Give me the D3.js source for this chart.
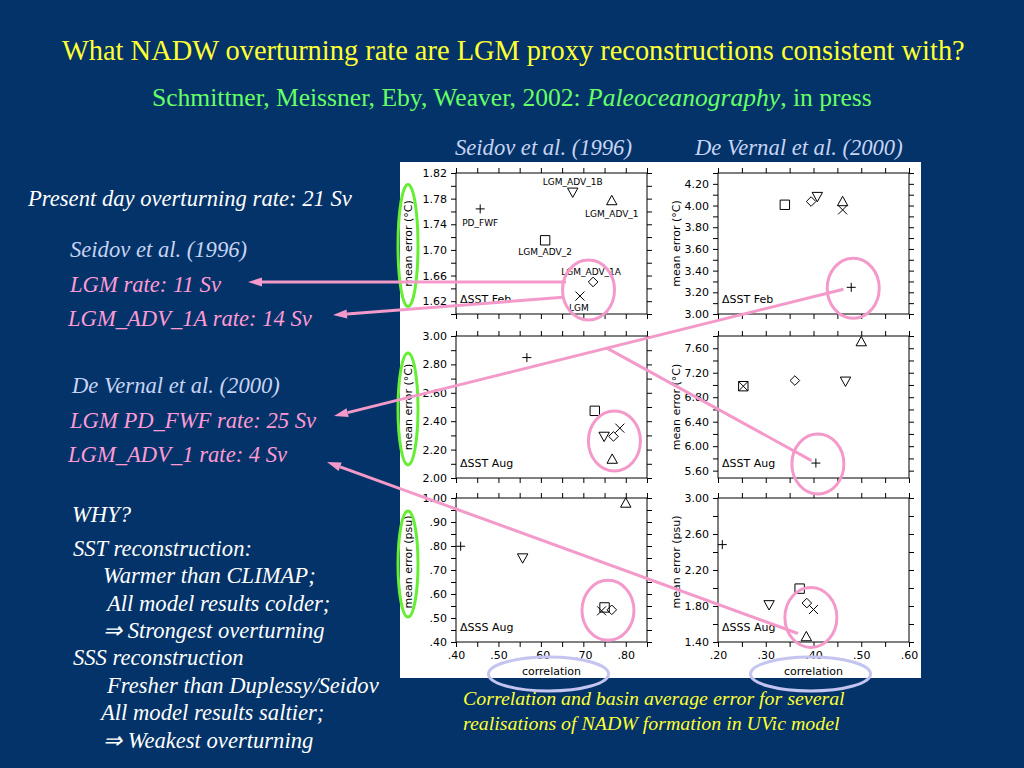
<!DOCTYPE html>
<html>
<head>
<meta charset="utf-8">
<script src="https://cdn.jsdelivr.net/npm/d3@7"></script>
<style>
body { margin: 0; background: #033368; }
svg { display: block; }
</style>
</head>
<body>
<svg id="slide" width="1024" height="768"></svg>
<script>
// model runs, one marker each
const models = ["PD_FWF", "LGM_ADV_1B", "LGM_ADV_1", "LGM_ADV_2", "LGM_ADV_1A", "LGM"];
const shapes = ["plus", "triDown", "triUp", "square", "diamond", "cross"];

// Seidov et al. (1996) comparisons
const seidovFebCorr = [0.457, 0.675, 0.767, 0.610, 0.723, 0.692];
const seidovFebErr  = [1.764, 1.790, 1.777, 1.715, 1.650, 1.628];
const seidovAugCorr = [0.567, 0.749, 0.768, 0.727, 0.771, 0.786];
const seidovAugErr  = [2.848, 2.293, 2.133, 2.473, 2.293, 2.351];
const seidovSssCorr = [0.411, 0.557, 0.800, 0.750, 0.767, 0.743];
const seidovSssErr  = [0.799, 0.750, 0.979, 0.544, 0.534, 0.530];

// De Vernal et al. (2000) comparisons
const vernalFebCorr = [0.479, 0.408, 0.461, 0.340, 0.395, 0.461];
const vernalFebErr  = [3.246, 4.083, 4.037, 4.007, 4.037, 3.960];
const vernalAugCorr = [0.405, 0.467, 0.500, 0.253, 0.361, 0.253];
const vernalAugErr  = [5.724, 7.061, 7.708, 6.980, 7.072, 6.980];
const vernalSssCorr = [0.209, 0.307, 0.385, 0.371, 0.386, 0.400];
const vernalSssErr  = [2.482, 1.813, 1.460, 1.993, 1.832, 1.761];

// tick labels
const leftCorrTicks  = [0.40, 0.50, 0.60, 0.70, 0.80];
const rightCorrTicks = [0.20, 0.30, 0.40, 0.50, 0.60];
const seidovFebTicks = [1.62, 1.66, 1.70, 1.74, 1.78, 1.82];
const seidovAugTicks = [2.00, 2.20, 2.40, 2.60, 2.80, 3.00];
const seidovSssTicks = [0.40, 0.50, 0.60, 0.70, 0.80, 0.90, 1.00];
const vernalFebTicks = [3.00, 3.20, 3.40, 3.60, 3.80, 4.00, 4.20];
const vernalAugTicks = [5.60, 6.00, 6.40, 6.80, 7.20, 7.60];
const vernalSssTicks = [1.40, 1.80, 2.20, 2.60, 3.00];

const svg = d3.select("#slide");
const SERIF = "'Liberation Serif', 'Times New Roman', Times, serif";
const SANS = "'DejaVu Sans', sans-serif";

// fit a text element to a target width by scaling its font size
const fit = (sel, w) => {
    const fs = parseFloat(sel.attr("font-size"));
    const len = sel.node().getComputedTextLength();
    sel.attr("font-size", (fs * w / len).toFixed(2));
    return +sel.attr("font-size");
};
const serifText = (parent, x, y, size, color, italic) =>
    parent.append("text").attr("x", x).attr("y", y).attr("font-family", SERIF)
        .attr("font-size", size).attr("fill", color).attr("font-style", italic ? "italic" : "normal");

// ---- headings
const title = serifText(svg, 62, 60, 24, "#ffff33", false)
    .text("What NADW overturning rate are LGM proxy reconstructions consistent with?");
fit(title, 903);
const sub = serifText(svg, 152, 106, 20, "#66ff66", false);
sub.append("tspan").text("Schmittner, Meissner, Eby, Weaver, 2002: ");
sub.append("tspan").attr("font-style", "italic").text("Paleoceanography");
sub.append("tspan").text(", in press");
fit(sub, 720);

const colTitle = serifText(svg, 455, 155, 19, "#c8d4f4", true).text("Seidov et al. (1996)");
const ctSize = fit(colTitle, 177);
serifText(svg, 695, 155, ctSize, "#c8d4f4", true).text("De Vernal et al. (2000)");

// ---- left column text
const white = "#ffffff", blue = "#c8d4f4", pink = "#ff9ad5";
const leftLines = [
    ["Present day overturning rate: 21 Sv", 28, 206, white],
    ["Seidov et al. (1996)", 70, 257, blue],
    ["LGM rate: 11 Sv", 70, 292, pink],
    ["LGM_ADV_1A rate: 14 Sv", 68, 326, pink],
    ["De Vernal et al. (2000)", 72, 393, blue],
    ["LGM PD_FWF rate: 25 Sv", 70, 428, pink],
    ["LGM_ADV_1 rate: 4 Sv", 68, 462, pink],
    ["WHY?", 72, 522, white],
    ["SST reconstruction:", 73, 556, white],
    ["Warmer than CLIMAP;", 103, 583, white],
    ["All model results colder;", 107, 611, white],
    ["\u21D2 Strongest overturning", 103, 638, white],
    ["SSS reconstruction", 73, 665, white],
    ["Fresher than Duplessy/Seidov", 107, 693, white],
    ["All model results saltier;", 101, 720, white],
    ["\u21D2 Weakest overturning", 103, 748, white]
];
const ltText = leftLines.map(d => serifText(svg, d[1], d[2], 20, d[3], true).text(d[0]));
const ltSize = fit(ltText[0], 324);
ltText.forEach(t => t.attr("font-size", ltSize));

// ---- caption
const cap1 = serifText(svg, 463, 705, 16, "#ffff33", true)
    .text("Correlation and basin average error for several");
const capSize = fit(cap1, 382);
serifText(svg, 463, 730, capSize, "#ffff33", true)
    .text("realisations of NADW formation in UVic model");

// ---- figure
svg.append("rect").attr("x", 400).attr("y", 162).attr("width", 521).attr("height", 516).attr("fill", "#fff");

const colX = [[456, 647], [718, 909]];
const rowY = [[173, 314], [336, 478], [498, 642]];
const xDomains = [[0.40, 0.85], [0.20, 0.60]];
const xTickLabels = [leftCorrTicks, rightCorrTicks];

const panels = [
    {col: 0, row: 0, corr: seidovFebCorr, err: seidovFebErr, dom: [1.60, 1.82], step: 0.02, ticks: seidovFebTicks, unit: "(\u00B0C)", tag: "\u0394SST Feb", named: true},
    {col: 0, row: 1, corr: seidovAugCorr, err: seidovAugErr, dom: [2.00, 3.00], step: 0.1, ticks: seidovAugTicks, unit: "(\u00B0C)", tag: "\u0394SST Aug"},
    {col: 0, row: 2, corr: seidovSssCorr, err: seidovSssErr, dom: [0.40, 1.00], step: 0.05, ticks: seidovSssTicks, unit: "(psu)", tag: "\u0394SSS Aug"},
    {col: 1, row: 0, corr: vernalFebCorr, err: vernalFebErr, dom: [3.00, 4.30], step: 0.1, ticks: vernalFebTicks, unit: "(\u00B0C)", tag: "\u0394SST Feb"},
    {col: 1, row: 1, corr: vernalAugCorr, err: vernalAugErr, dom: [5.48, 7.80], step: 0.2, ticks: vernalAugTicks, unit: "(\u00B0C)", tag: "\u0394SST Aug"},
    {col: 1, row: 2, corr: vernalSssCorr, err: vernalSssErr, dom: [1.40, 3.00], step: 0.2, ticks: vernalSssTicks, unit: "(psu)", tag: "\u0394SSS Aug"}
];

const steps = (dom, step) => {
    const n0 = Math.ceil(dom[0] / step - 1e-6), n1 = Math.floor(dom[1] / step + 1e-6);
    return d3.range(n0, n1 + 1).map(i => +(i * step).toFixed(4));
};
const has = (arr, v) => arr.some(t => Math.abs(t - v) < 1e-6);
const fmt = v => d3.format(".2f")(v).replace(/^0/, "");

const symbol = (shape, s) => {
    switch (shape) {
        case "plus": return `M${-s},0H${s}M0,${-s}V${s}`;
        case "cross": return `M${-s},${-s}L${s},${s}M${-s},${s}L${s},${-s}`;
        case "square": return `M${-s},${-s}h${2 * s}v${2 * s}h${-2 * s}Z`;
        case "diamond": return `M0,${-s}L${s},0L0,${s}L${-s},0Z`;
        case "triUp": return `M0,${-s}L${s},${s * 0.8}L${-s},${s * 0.8}Z`;
        case "triDown": return `M${-s},${-s * 0.8}L${s},${-s * 0.8}L0,${s}Z`;
    }
};
const symSize = {plus: 4.5, cross: 4.5, square: 4.7, diamond: 4.8, triUp: 5.2, triDown: 5.2};
// label placement for the named panel: [dx, dy]
const nameOffset = [[0, 17], [0, -7], [0, 16], [0, 15], [-2, -7], [-1, 15]];

const plot = svg.append("g").attr("font-family", SANS);
const scales = [];

panels.forEach(p => {
    const [x0, x1] = colX[p.col], [y0, y1] = rowY[p.row];
    const x = d3.scaleLinear().domain(xDomains[p.col]).range([x0, x1]);
    const y = d3.scaleLinear().domain(p.dom).range([y1, y0]);
    scales.push({x, y});
    const g = plot.append("g");

    const xMinor = steps(xDomains[p.col], 0.05);
    const yMinor = steps(p.dom, p.step);
    const bottomLabels = p.row === 2;

    const styleAxis = sel => {
        sel.select(".domain").remove();
        sel.selectAll("line").attr("stroke", "#000");
        sel.selectAll("text").attr("font-size", 11).attr("font-family", SANS).attr("fill", "#000");
    };
    g.append("g").attr("transform", `translate(0,${y1})`)
        .call(d3.axisBottom(x).tickValues(xMinor).tickSize(5).tickPadding(4)
            .tickFormat(v => bottomLabels && has(xTickLabels[p.col], v) ? fmt(v) : ""))
        .call(styleAxis);
    g.append("g").attr("transform", `translate(0,${y0})`)
        .call(d3.axisTop(x).tickValues(xMinor).tickSize(5).tickFormat(""))
        .call(styleAxis);
    g.append("g").attr("transform", `translate(${x0},0)`)
        .call(d3.axisLeft(y).tickValues(yMinor).tickSize(5).tickPadding(4)
            .tickFormat(v => has(p.ticks, v) ? fmt(v) : ""))
        .call(styleAxis);
    g.append("g").attr("transform", `translate(${x1},0)`)
        .call(d3.axisRight(y).tickValues(yMinor).tickSize(5).tickFormat(""))
        .call(styleAxis);

    g.append("rect").attr("x", x0).attr("y", y0).attr("width", x1 - x0).attr("height", y1 - y0)
        .attr("fill", "none").attr("stroke", "#000").attr("stroke-width", 1);

    // y title
    const lx = p.col === 0 ? 408 : 676;
    const ly = (y0 + y1) / 2 - (p.row === 2 ? 8 : 0);
    p.labelPos = [lx, ly];
    g.append("text").attr("transform", `translate(${lx + 4},${ly}) rotate(-90)`)
        .attr("text-anchor", "middle").attr("font-size", 11).text("mean error " + p.unit);
    if (bottomLabels) {
        g.append("text").attr("x", (x0 + x1) / 2).attr("y", y1 + 33).attr("text-anchor", "middle")
            .attr("font-size", 11).text("correlation");
    }
    g.append("text").attr("x", x0 + 4).attr("y", y1 - 11).attr("font-size", 11).text(p.tag);

    const pts = models.map((m, i) => ({m, shape: shapes[i], c: p.corr[i], e: p.err[i], i}));
    g.selectAll("path.pt").data(pts).enter().append("path").attr("class", "pt")
        .attr("transform", d => `translate(${x(d.c)},${y(d.e)})`)
        .attr("d", d => symbol(d.shape, symSize[d.shape]))
        .attr("fill", "none").attr("stroke", "#000").attr("stroke-width", 1);
    if (p.named) {
        g.selectAll("text.nm").data(pts).enter().append("text").attr("class", "nm")
            .attr("x", d => x(d.c) + nameOffset[d.i][0]).attr("y", d => y(d.e) + nameOffset[d.i][1])
            .attr("text-anchor", "middle").attr("font-size", 9).text(d => d.m);
    }
});

// ---- annotations
const ann = svg.append("g");
const pos = (pi, mi) => [scales[pi].x(panels[pi].corr[mi]), scales[pi].y(panels[pi].err[mi])];
const mean = list => [d3.mean(list, d => d[0]), d3.mean(list, d => d[1])];

// green ellipses round the left y titles
[[0, 61], [1, 56], [2, 53]].forEach(([pi, ry]) => {
    ann.append("ellipse").attr("cx", panels[pi].labelPos[0]).attr("cy", panels[pi].labelPos[1] + 2)
        .attr("rx", 10).attr("ry", ry).attr("fill", "none").attr("stroke", "#66ee33").attr("stroke-width", 3);
});
// lavender ellipses round the x titles
[0, 1].forEach(c => {
    ann.append("ellipse").attr("cx", (colX[c][0] + colX[c][1]) / 2 - 3).attr("cy", 674)
        .attr("rx", 60).attr("ry", 17).attr("fill", "none").attr("stroke", "#c4c4f0").attr("stroke-width", 3);
});
// pink ellipses round the best runs
const circled = [[0, [4, 5]], [3, [0]], [1, [1, 2, 4, 5]], [4, [0]], [2, [3, 4, 5]], [5, [2, 4, 5]]];
circled.forEach(([pi, ms]) => {
    const c = mean(ms.map(m => pos(pi, m)));
    ann.append("ellipse").attr("cx", c[0] + 2).attr("cy", c[1] + 1).attr("rx", 26).attr("ry", 30)
        .attr("fill", "none").attr("stroke", "#f49acb").attr("stroke-width", 3);
});

// arrows from runs to the text on the left
const toward = (a, b, gap) => {
    const dx = a[0] - b[0], dy = a[1] - b[1], L = Math.hypot(dx, dy);
    return [b[0] + dx / L * gap, b[1] + dy / L * gap];
};
const arrows = [
    {tip: [248, 282], from: pos(0, 4), gap: 27},
    {tip: [333, 315], from: pos(0, 5), gap: 17},
    {tip: [334, 416], from: pos(3, 0), gap: 8},
    {tip: [327, 462], from: pos(5, 2), gap: 9}
];
const pinkLine = "#f49acb";
arrows.forEach(a => {
    const s = toward(a.tip, a.from, a.gap);
    a.start = s;
    const ang = Math.atan2(s[1] - a.tip[1], s[0] - a.tip[0]);
    const base = [a.tip[0] + Math.cos(ang) * 14, a.tip[1] + Math.sin(ang) * 14];
    ann.append("line").attr("x1", s[0]).attr("y1", s[1]).attr("x2", base[0]).attr("y2", base[1])
        .attr("stroke", pinkLine).attr("stroke-width", 3);
    const nx = -Math.sin(ang) * 4.5, ny = Math.cos(ang) * 4.5;
    ann.append("path")
        .attr("d", `M${a.tip[0]},${a.tip[1]}L${base[0] + nx},${base[1] + ny}L${base[0] - nx},${base[1] - ny}Z`)
        .attr("fill", pinkLine);
});
// branch of the PD_FWF arrow down to the August point
{
    const a = arrows[2];
    const t = (607 - a.tip[0]) / (a.start[0] - a.tip[0]);
    const b = [607, a.tip[1] + t * (a.start[1] - a.tip[1])];
    const e = toward(b, pos(4, 0), 5);
    ann.append("line").attr("x1", b[0]).attr("y1", b[1]).attr("x2", e[0]).attr("y2", e[1])
        .attr("stroke", pinkLine).attr("stroke-width", 3);
}
</script>
</body>
</html>
